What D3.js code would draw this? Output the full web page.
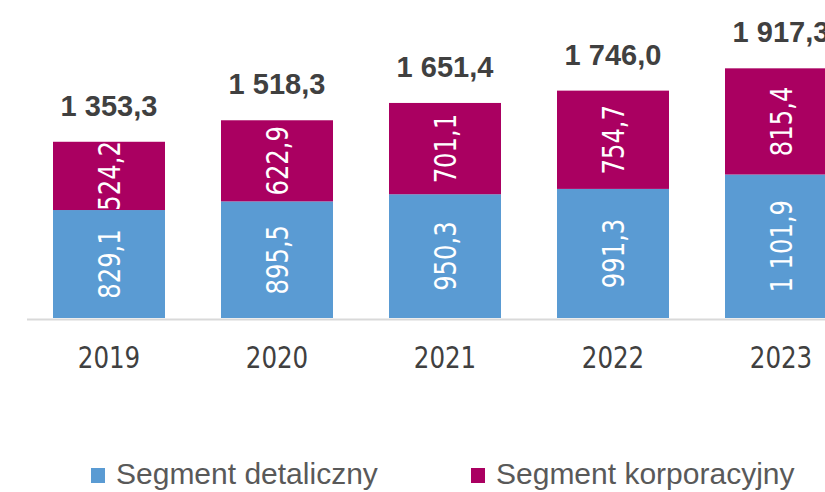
<!DOCTYPE html>
<meta charset="utf-8">
<script src="https://d3js.org/d3.v7.min.js"></script>
<style>
  body { margin: 0; background: #fff; }
</style>
<body>
<div id="chart"></div>
<script>
  // data
  const years = ["2019", "2020", "2021", "2022", "2023"];
  const detaliczny = [829.1, 895.5, 950.3, 991.3, 1101.9];
  const korporacyjny = [524.2, 622.9, 701.1, 754.7, 815.4];
  const totals = [1353.3, 1518.3, 1651.4, 1746.0, 1917.3];
  const seriesNames = ["Segment detaliczny", "Segment korporacyjny"];
  const colors = ["#5a9bd3", "#aa0061"];

  const width = 825, height = 492;
  const narrow = "'DejaVu Sans Condensed', 'DejaVu Sans', sans-serif";
  const regular = "'Liberation Sans', Arial, sans-serif";

  // format like 1 353,3
  function fmt(v) {
    const parts = v.toFixed(1).split(".");
    const int = parts[0].replace(/\B(?=(\d{3})+(?!\d))/g, " ");
    return int + "," + parts[1];
  }

  const svg = d3.select("#chart")
    .append("svg")
    .attr("width", width)
    .attr("height", height);

  const x = d3.scaleBand()
    .domain(years)
    .range([25, 865])
    .paddingInner(1 / 3)
    .paddingOuter(1 / 6);

  const y = d3.scaleLinear()
    .domain([0, 2442])
    .range([318, 0]);

  const rows = years.map((yr, i) => ({ year: yr, detaliczny: detaliczny[i], korporacyjny: korporacyjny[i], total: totals[i] }));
  const stack = d3.stack().keys(["detaliczny", "korporacyjny"])(rows);

  // bars
  const layer = svg.selectAll("g.layer")
    .data(stack)
    .join("g")
    .attr("class", "layer")
    .attr("fill", (d, i) => colors[i]);

  layer.selectAll("rect")
    .data(d => d)
    .join("rect")
    .attr("x", d => x(d.data.year))
    .attr("width", x.bandwidth())
    .attr("y", d => y(d[1]))
    .attr("height", d => y(d[0]) - y(d[1]));

  // value labels inside the segments, rotated (squeezed to look narrow)
  layer.selectAll("text")
    .data(d => d)
    .join("text")
    .attr("transform", d => {
      const cx = x(d.data.year) + x.bandwidth() / 2;
      const cy = (y(d[0]) + y(d[1])) / 2;
      return `translate(${cx},${cy}) rotate(-90) scale(0.9,1)`;
    })
    .attr("text-anchor", "middle")
    .attr("dy", "0.36em")
    .style("font-family", narrow)
    .style("font-size", "30px")
    .style("fill", "#fff")
    .text(d => fmt(d[1] - d[0]));

  // axis line
  svg.append("line")
    .attr("x1", 27).attr("x2", width)
    .attr("y1", 319.5).attr("y2", 319.5)
    .style("stroke", "#d9d9d9")
    .style("stroke-width", 2);

  // year labels
  svg.selectAll("text.year")
    .data(years)
    .join("text")
    .attr("class", "year")
    .attr("transform", d => `translate(${x(d) + x.bandwidth() / 2},368) scale(0.88,1)`)
    .attr("text-anchor", "middle")
    .style("font-family", narrow)
    .style("font-size", "31px")
    .style("fill", "#404040")
    .text(d => d);

  // totals above bars
  svg.selectAll("text.total")
    .data(rows)
    .join("text")
    .attr("class", "total")
    .attr("x", d => x(d.year) + x.bandwidth() / 2)
    .attr("y", d => y(d.total) - 26)
    .attr("text-anchor", "middle")
    .style("font-family", regular)
    .style("font-weight", "bold")
    .style("font-size", "29px")
    .style("fill", "#404040")
    .text(d => fmt(d.total));

  // legend
  const legendX = [91, 471];
  const legend = svg.selectAll("g.legend")
    .data(seriesNames)
    .join("g")
    .attr("class", "legend")
    .attr("transform", (d, i) => `translate(${legendX[i]},468)`);

  legend.append("rect")
    .attr("width", 14)
    .attr("height", 15)
    .attr("fill", (d, i) => colors[i]);

  legend.append("text")
    .attr("x", 25)
    .attr("y", 16)
    .style("font-family", regular)
    .style("font-size", "30px")
    .style("fill", "#595959")
    .text(d => d);
</script>
</body>
